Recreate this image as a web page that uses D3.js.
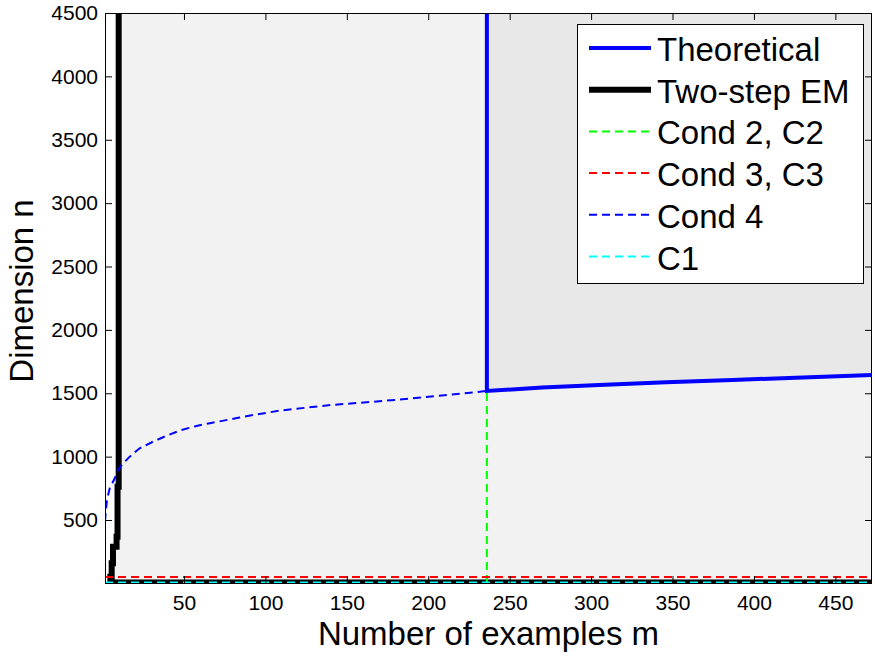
<!DOCTYPE html>
<html>
<head>
<meta charset="utf-8">
<script src="https://cdn.jsdelivr.net/npm/d3@7"></script>
<style>
  body { margin: 0; background: white; }
</style>
</head>
<body>
<div id="chart"></div>
<script>
// values
const mDomain = [1.5, 472.5];
const nDomain = [3, 4500];
const mTicks = [50, 100, 150, 200, 250, 300, 350, 400, 450];
const nTicks = [500, 1000, 1500, 2000, 2500, 3000, 3500, 4000, 4500];

const theoM = [236, 236, 270, 305, 346, 387, 430, 472.5];
const theoN = [4500, 1518, 1545, 1566, 1587, 1605, 1625, 1645];

const emM = [472.5, 4.8, 4.8, 5.6, 5.6, 6.4, 6.4, 8.6, 8.6, 9.2, 9.2, 9.9, 9.9];
const emN = [6, 6, 52, 52, 158, 158, 289, 289, 368, 368, 763, 763, 4500];

const cond2M = [236, 236];
const cond2N = [3, 1518];

const cond3M = [1.5, 472.5];
const cond3N = [50, 50];

const cond4M = [1.5, 1.9, 2.7, 4.4, 7.5, 9.5, 12.6, 16.7, 22.8, 31, 39.2, 48.4, 57.7, 65.9, 75.1, 83.2, 91.5, 108.8, 137.5, 182.6, 210, 236];
const cond4N = [490, 553, 658, 750, 829, 895, 947, 1000, 1066, 1118, 1165, 1210, 1242, 1264, 1286, 1306, 1326, 1363, 1404, 1450, 1484, 1518];

const c1M = [1.5, 472.5];
const c1N = [6, 6];

const legendLabels = ["Theoretical", "Two-step EM", "Cond 2, C2", "Cond 3, C3", "Cond 4", "C1"];

const width = 875;
const height = 657;
const margin = { top: 13, right: 3, bottom: 74, left: 105 };
const font = "'Liberation Sans', Arial, Helvetica, sans-serif";

const svg = d3.select("#chart")
  .append("svg")
  .attr("width", width)
  .attr("height", height)
  .style("background", "white");

const x = d3.scaleLinear()
  .domain(mDomain)
  .range([margin.left, width - margin.right]);

const y = d3.scaleLinear()
  .domain(nDomain)
  .range([height - margin.bottom, margin.top]);

const zip = (ms, ns) => ms.map((m, i) => [m, ns[i]]);

svg.append("clipPath")
  .attr("id", "plot-clip")
  .append("rect")
    .attr("x", margin.left)
    .attr("y", margin.top)
    .attr("width", width - margin.right - margin.left)
    .attr("height", height - margin.bottom - margin.top);

const plot = svg.append("g").attr("clip-path", "url(#plot-clip)");

const line = d3.line().x(d => x(d[0])).y(d => y(d[1]));

// feasible region right of the EM curve
const emPts = zip(emM, emN);
plot.append("path")
  .attr("d", line([...emPts, [mDomain[1], nDomain[1]]]) + "Z")
  .attr("fill", "#f2f2f2");

// region above the theoretical curve
const theoPts = zip(theoM, theoN);
plot.append("path")
  .attr("d", line([...theoPts, [mDomain[1], nDomain[1]]]) + "Z")
  .attr("fill", "#e8e8e8");

const series = [
  { pts: emPts, color: "#000000", w: 6, dash: null },
  { pts: zip(cond2M, cond2N), color: "#00ff00", w: 2, dash: "8,5" },
  { pts: zip(cond3M, cond3N), color: "#ff0000", w: 2, dash: "8,5" },
  { pts: zip(cond4M, cond4N), color: "#0000ff", w: 2, dash: "8,5" },
  { pts: zip(c1M, c1N), color: "#00ffff", w: 2, dash: "8,5" },
  { pts: theoPts, color: "#0000ff", w: 4, dash: null }
];

series.forEach(s => {
  plot.append("path")
    .attr("d", line(s.pts))
    .attr("fill", "none")
    .attr("stroke", s.color)
    .attr("stroke-width", s.w)
    .attr("stroke-dasharray", s.dash)
    .attr("stroke-linejoin", "miter");
});

// axes, ticks pointing inwards on all four sides
const styleAxis = g => {
  g.attr("font-family", font).attr("font-size", 21);
  g.select(".domain").remove();
  g.selectAll(".tick line").attr("stroke", "black");
  g.selectAll(".tick text").attr("fill", "black");
};

svg.append("g")
  .attr("transform", `translate(0,${height - margin.bottom})`)
  .call(d3.axisBottom(x).tickValues(mTicks).tickFormat(d3.format("d"))
    .tickSizeInner(-7).tickSizeOuter(0).tickPadding(12))
  .call(styleAxis);

svg.append("g")
  .attr("transform", `translate(0,${margin.top})`)
  .call(d3.axisTop(x).tickValues(mTicks).tickSizeInner(-7).tickSizeOuter(0).tickFormat(""))
  .call(styleAxis);

svg.append("g")
  .attr("transform", `translate(${margin.left},0)`)
  .call(d3.axisLeft(y).tickValues(nTicks).tickFormat(d3.format("d"))
    .tickSizeInner(-7).tickSizeOuter(0).tickPadding(7))
  .call(styleAxis);

svg.append("g")
  .attr("transform", `translate(${width - margin.right},0)`)
  .call(d3.axisRight(y).tickValues(nTicks).tickSizeInner(-7).tickSizeOuter(0).tickFormat(""))
  .call(styleAxis);

svg.append("rect")
  .attr("x", margin.left + 0.5)
  .attr("y", margin.top + 0.5)
  .attr("width", width - margin.right - margin.left - 1)
  .attr("height", height - margin.bottom - margin.top)
  .attr("fill", "none")
  .attr("stroke", "black")
  .attr("stroke-width", 1);

// axis titles
svg.append("text")
  .attr("x", (margin.left + width - margin.right) / 2)
  .attr("y", 645)
  .attr("text-anchor", "middle")
  .attr("font-family", font)
  .attr("font-size", 33)
  .text("Number of examples m");

svg.append("text")
  .attr("transform", "translate(33,291) rotate(-90)")
  .attr("text-anchor", "middle")
  .attr("font-family", font)
  .attr("font-size", 33)
  .text("Dimension n");

// legend
const legend = svg.append("g").attr("transform", "translate(577,24)");

legend.append("rect")
  .attr("x", 0.5)
  .attr("y", 0.5)
  .attr("width", 286)
  .attr("height", 259)
  .attr("fill", "white")
  .attr("stroke", "black");

legendLabels.forEach((label, i) => {
  const s = i === 0 ? series[5] : i === 1 ? series[0] : series[i - 1];
  const cy = 24 + i * 41.7;
  legend.append("line")
    .attr("x1", 12)
    .attr("x2", 74)
    .attr("y1", cy)
    .attr("y2", cy)
    .attr("stroke", s.color)
    .attr("stroke-width", s.w)
    .attr("stroke-dasharray", s.dash);
  legend.append("text")
    .attr("x", 80)
    .attr("y", cy + 13)
    .attr("font-family", font)
    .attr("font-size", 33)
    .text(label);
});
</script>
</body>
</html>
